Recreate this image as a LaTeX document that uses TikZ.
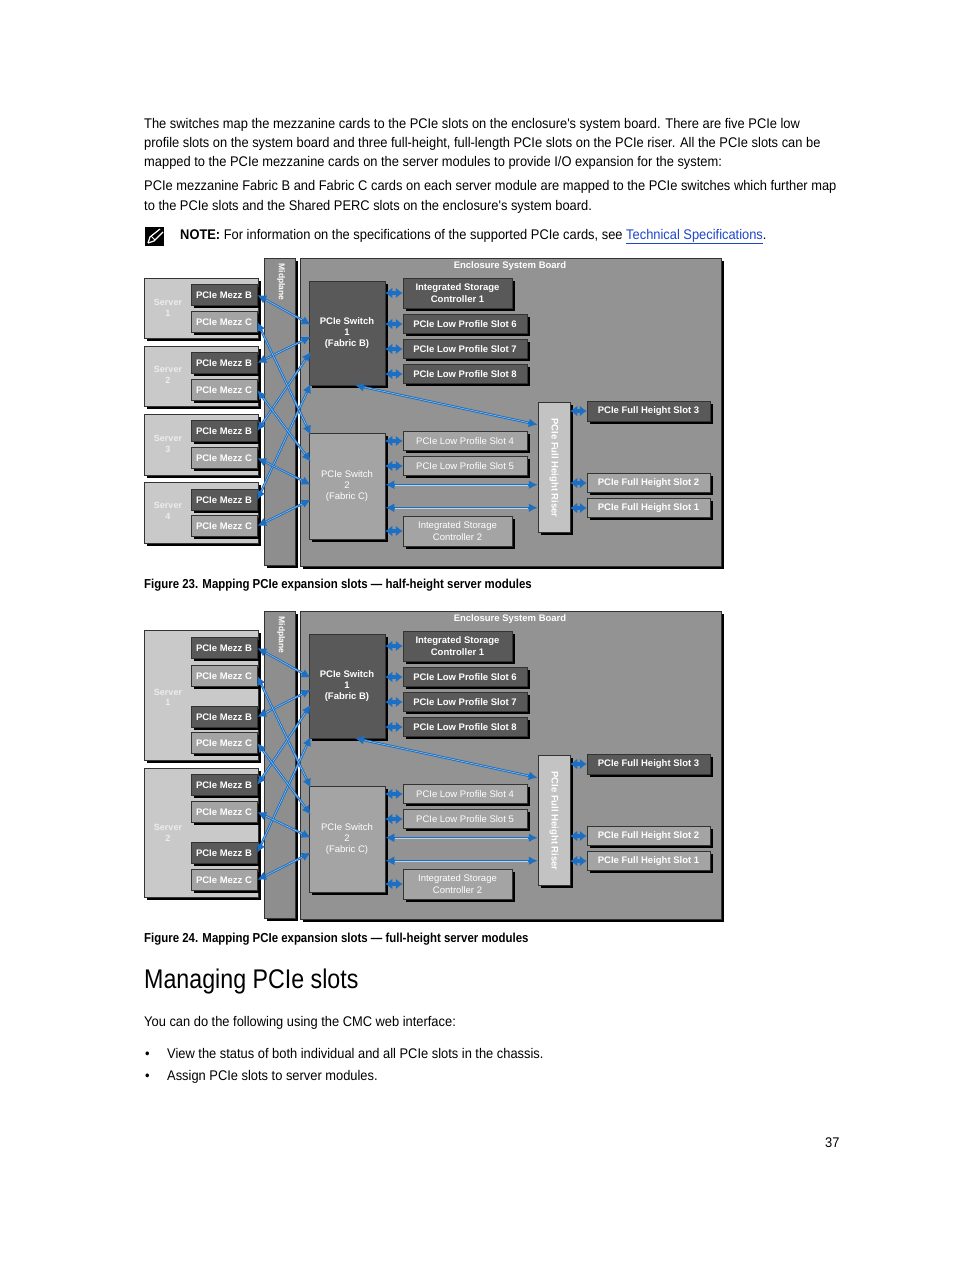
\documentclass[tikz,border=0pt]{standalone}
\usepackage{fontspec}
\setmainfont{Liberation Sans}
\newfontfamily\bodyf[FakeStretch=0.92]{Liberation Sans}
\newfontfamily\capf[FakeStretch=0.88]{Liberation Sans}
\newfontfamily\headf[FakeStretch=0.86]{Liberation Sans}
\newfontfamily\diagf{Liberation Sans}
\usetikzlibrary{arrows.meta,shadows,calc}
\definecolor{bl}{RGB}{28,112,196}
\definecolor{dk}{HTML}{595959}
\definecolor{md}{HTML}{A4A4A4}
\definecolor{lt}{HTML}{C3C3C3}
\definecolor{srv}{HTML}{C9C9C9}
\definecolor{brd}{HTML}{939393}
\definecolor{mdp}{HTML}{8E8E8E}
\definecolor{lnk}{RGB}{30,70,200}
\newcommand\lk[2]{\draw[link] #1 -- #2; \draw[hl] #1 -- #2;}
\newcommand\st[2]{\draw[stub] #1 -- #2;}
\newcommand\board[2]{%
\begin{scope}[shift={(0,#2)}]
\node[box, fill=mdp, minimum width=31pt, minimum height=307pt] (#1midp) at (279.5,411.5) {};
\node[rotate=-90, font=\diagf\bfseries\fontsize{8.5}{9}\selectfont, text=white] (#1midl) at (281,282) {Midplane};
\node[box, fill=brd, minimum width=421pt, minimum height=308pt] (#1esb) at (510.5,412) {};
\node[font=\diagf\bfseries\fontsize{9.5}{10}\selectfont, text=white] (#1esbt) at (510,266) {Enclosure System Board};
\node[box, fill=dk, minimum width=76pt, minimum height=104pt] (#1sw1) at (347,333) {PCIe Switch\\1\\(Fabric B)};
\node[box, fill=md, minimum width=76pt, minimum height=106pt, font=\diagf\fontsize{9.5}{11}\selectfont] (#1sw2) at (347,486) {PCIe Switch\\2\\(Fabric C)};
\node[box, fill=dk, minimum width=109pt, minimum height=30pt, font=\diagf\bfseries\fontsize{9.5}{12}\selectfont] (#1isc1) at (457.5,293) {Integrated Storage\\Controller 1};
\node[box, fill=dk, minimum width=124pt, minimum height=19pt] (#1lp6) at (465,324) {PCIe Low Profile Slot 6};
\node[box, fill=dk, minimum width=124pt, minimum height=19pt] (#1lp7) at (465,349) {PCIe Low Profile Slot 7};
\node[box, fill=dk, minimum width=124pt, minimum height=19pt] (#1lp8) at (465,374) {PCIe Low Profile Slot 8};
\node[box, fill=md, font=\diagf\fontsize{9.5}{11}\selectfont, minimum width=124pt, minimum height=19pt] (#1lp4) at (465,441) {PCIe Low Profile Slot 4};
\node[box, fill=md, font=\diagf\fontsize{9.5}{11}\selectfont, minimum width=124pt, minimum height=19pt] (#1lp5) at (465,466) {PCIe Low Profile Slot 5};
\node[box, fill=md, font=\diagf\fontsize{9.5}{12}\selectfont, minimum width=109pt, minimum height=30pt] (#1isc2) at (457.5,531) {Integrated Storage\\Controller 2};
\node[box, fill=lt, minimum width=32pt, minimum height=130pt] (#1riser) at (554,467) {};
\node[rotate=-90, font=\diagf\bfseries\fontsize{9.5}{10}\selectfont, text=white] (#1riserl) at (554,468) {PCIe Full Height Riser};
\node[box, fill=dk, minimum width=123pt, minimum height=20pt] (#1fh3) at (648.5,411) {PCIe Full Height Slot 3};
\node[box, fill=md, minimum width=123pt, minimum height=19pt] (#1fh2) at (648.5,483) {PCIe Full Height Slot 2};
\node[box, fill=md, minimum width=123pt, minimum height=19pt] (#1fh1) at (648.5,508) {PCIe Full Height Slot 1};
\st{(#1sw1.east |- #1isc1.west)}{(#1isc1.west)}
\st{(#1sw1.east |- #1lp6.west)}{(#1lp6.west)}
\st{(#1sw1.east |- #1lp7.west)}{(#1lp7.west)}
\st{(#1sw1.east |- #1lp8.west)}{(#1lp8.west)}
\st{(#1sw2.east |- #1lp4.west)}{(#1lp4.west)}
\st{(#1sw2.east |- #1lp5.west)}{(#1lp5.west)}
\st{(#1sw2.east |- #1isc2.west)}{(#1isc2.west)}
\st{(#1riser.east |- #1fh3.west)}{(#1fh3.west)}
\st{(#1riser.east |- #1fh2.west)}{(#1fh2.west)}
\st{(#1riser.east |- #1fh1.west)}{(#1fh1.west)}
\coordinate (#1l1) at ([yshift=-52pt]#1sw2.north east);
\coordinate (#1l2) at ([yshift=-75pt]#1sw2.north east);
\lk{(#1l1)}{(#1l1 -| #1riser.west)}
\lk{(#1l2)}{(#1l2 -| #1riser.west)}
\coordinate (#1d1) at ([xshift=8pt]#1sw1.south);
\coordinate (#1d2) at ([yshift=-23pt]#1riser.north west);
\lk{(#1d1)}{(#1d2)}
\end{scope}}
\begin{document}
\begin{tikzpicture}[x=1pt,y=-1pt,
  box/.style={draw=black!80, line width=0.5pt, inner sep=0pt, text=white, align=center,
    font=\diagf\bfseries\fontsize{9.5}{11}\selectfont,
    drop shadow={shadow xshift=2.5pt,shadow yshift=-2.5pt,opacity=1,fill=black}},
  mezz/.style={minimum width=66pt, minimum height=21pt},
  server/.style={box, fill=srv, minimum width=114pt},
  srvlabel/.style={font=\diagf\bfseries\fontsize{9}{10.5}\selectfont, text=white!93!black, align=center},
  link/.style={draw=bl, line width=2.4pt, {Latex[length=9pt,width=9pt]}-{Latex[length=9pt,width=9pt]}},
  hl/.style={draw=white!70!bl, line width=0.4pt, shorten <=10pt, shorten >=10pt},
  stub/.style={draw=bl, line width=3.2pt, {Latex[length=7pt,width=11pt]}-{Latex[length=7pt,width=11pt]}, shorten <=0pt, shorten >=0pt},
  body/.style={anchor=base west, inner sep=0pt, font=\bodyf\fontsize{14}{16}\selectfont},
  figcap/.style={anchor=base west, inner sep=0pt, font=\capf\bfseries\fontsize{13}{15}\selectfont}]
\useasboundingbox (0,0) rectangle (954,1268);
\fill[white] (0,0) rectangle (954,1268);
% body text
\node[body] (t1) at (144,129) {The switches map the mezzanine cards to the PCIe slots on the enclosure's system board. There are five PCIe low};
\node[body] (t2) at (144,148) {profile slots on the system board and three full-height, full-length PCIe slots on the PCIe riser. All the PCIe slots can be};
\node[body] (t3) at (144,167) {mapped to the PCIe mezzanine cards on the server modules to provide I/O expansion for the system:};
\node[body] (t4) at (144,191) {PCIe mezzanine Fabric B and Fabric C cards on each server module are mapped to the PCIe switches which further map};
\node[body] (t5) at (144,210) {to the PCIe slots and the Shared PERC slots on the enclosure's system board.};
% note icon
\fill[black] (145,227) -- (164,227) -- (164,246) -- (145,246) -- cycle;
\draw[white, line width=1.2pt] (148,243) -- (150,237) -- (160,229);
\draw[white, line width=1.2pt] (148,243) -- (154,241) -- (163,232);
\draw[white, line width=0.8pt] (151,236) -- (155,240);
\node[body] (t6) at (180,239) {\textbf{NOTE:} For information on the specifications of the supported PCIe cards, see \textcolor{lnk}{\underline{Technical Specifications}}.};
% ---------- Figure 23 ----------
\board{a}{0}
\node[server, minimum height=60pt] (as1) at (201,308) {};
\node[srvlabel] (as1l) at (168,308) {Server\\1};
\node[box, mezz, fill=dk] (as1b) at (224,295) {PCIe Mezz B};
\node[box, mezz, fill=md] (as1c) at (224,322) {PCIe Mezz C};
\node[server, minimum height=60pt] (as2) at (201,376) {};
\node[srvlabel] (as2l) at (168,375) {Server\\2};
\node[box, mezz, fill=dk] (as2b) at (224,363) {PCIe Mezz B};
\node[box, mezz, fill=md] (as2c) at (224,390) {PCIe Mezz C};
\node[server, minimum height=61pt] (as3) at (201,444.5) {};
\node[srvlabel] (as3l) at (168,444) {Server\\3};
\node[box, mezz, fill=dk] (as3b) at (224,431) {PCIe Mezz B};
\node[box, mezz, fill=md] (as3c) at (224,458) {PCIe Mezz C};
\node[server, minimum height=61pt] (as4) at (201,512.5) {};
\node[srvlabel] (as4l) at (168,511) {Server\\4};
\node[box, mezz, fill=dk] (as4b) at (224,500) {PCIe Mezz B};
\node[box, mezz, fill=md] (as4c) at (224,526) {PCIe Mezz C};
\lk{(as1b.east)}{([shift={(2pt,-44pt)}]asw1.north west)}
\lk{(as2b.east)}{([shift={(2pt,-56pt)}]asw1.north west)}
\lk{(as3b.east)}{([shift={(2pt,-71pt)}]asw1.north west)}
\lk{(as4b.east)}{([shift={(2pt,-103pt)}]asw1.north west)}
\lk{(as1c.east)}{([shift={(2pt,-2pt)}]asw2.north west)}
\lk{(as2c.east)}{([shift={(2pt,-29pt)}]asw2.north west)}
\lk{(as3c.east)}{([shift={(2pt,-52pt)}]asw2.north west)}
\lk{(as4c.east)}{([shift={(2pt,-67pt)}]asw2.north west)}
\node[figcap] (c1) at (144,588.5) {Figure 23. Mapping PCIe expansion slots — half-height server modules};
% ---------- Figure 24 ----------
\board{b}{353}
\node[server, minimum height=130pt] (bs1) at (201.5,695) {};
\node[srvlabel] (bs1l) at (168,697.5) {Server\\1};
\node[box, mezz, fill=dk] (bs1b) at (224,648) {PCIe Mezz B};
\node[box, mezz, fill=md] (bs1c) at (224,676) {PCIe Mezz C};
\node[box, mezz, fill=dk] (bs1d) at (224,717) {PCIe Mezz B};
\node[box, mezz, fill=md] (bs1e) at (224,743) {PCIe Mezz C};
\node[server, minimum height=129pt] (bs2) at (201.5,832.5) {};
\node[srvlabel] (bs2l) at (168,833) {Server\\2};
\node[box, mezz, fill=dk] (bs2b) at (224,785) {PCIe Mezz B};
\node[box, mezz, fill=md] (bs2c) at (224,812) {PCIe Mezz C};
\node[box, mezz, fill=dk] (bs2d) at (224,853) {PCIe Mezz B};
\node[box, mezz, fill=md] (bs2e) at (224,880) {PCIe Mezz C};
\lk{(bs1b.east)}{([shift={(2pt,-44pt)}]bsw1.north west)}
\lk{(bs1d.east)}{([shift={(2pt,-56pt)}]bsw1.north west)}
\lk{(bs2b.east)}{([shift={(2pt,-71pt)}]bsw1.north west)}
\lk{(bs2d.east)}{([shift={(2pt,-103pt)}]bsw1.north west)}
\lk{(bs1c.east)}{([shift={(2pt,-2pt)}]bsw2.north west)}
\lk{(bs1e.east)}{([shift={(2pt,-29pt)}]bsw2.north west)}
\lk{(bs2c.east)}{([shift={(2pt,-52pt)}]bsw2.north west)}
\lk{(bs2e.east)}{([shift={(2pt,-67pt)}]bsw2.north west)}
\node[figcap] (c2) at (144,942.5) {Figure 24. Mapping PCIe expansion slots — full-height server modules};
% ---------- section ----------
\node[anchor=base west, inner sep=0pt, font=\headf\fontsize{27}{30}\selectfont] (h1) at (144,988) {Managing PCIe slots};
\node[body] (t7) at (144,1026) {You can do the following using the CMC web interface:};
\node[body] (bu1) at (145,1058) {•};
\node[body] (t8) at (167,1058) {View the status of both individual and all PCIe slots in the chassis.};
\node[body] (bu2) at (145,1080) {•};
\node[body] (t9) at (167,1080) {Assign PCIe slots to server modules.};
\node[body] (pg) at (825,1147) {37};
\end{tikzpicture}
\end{document}
